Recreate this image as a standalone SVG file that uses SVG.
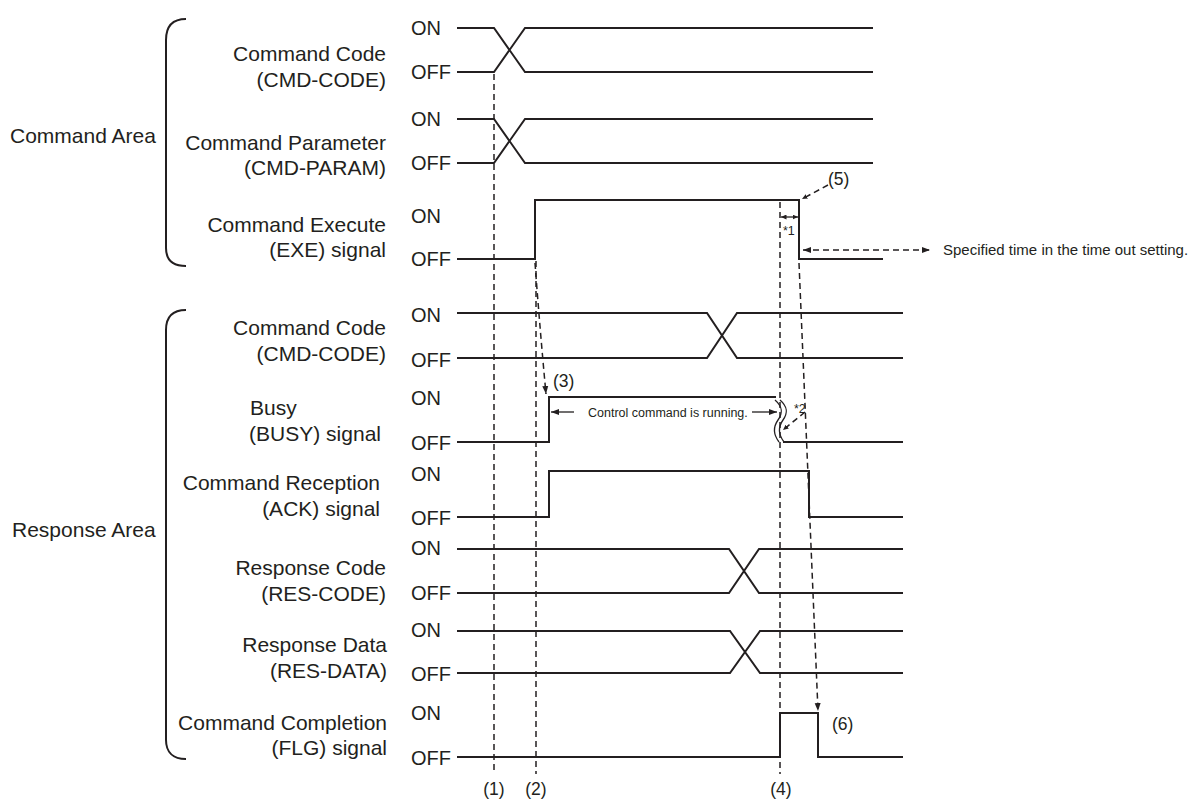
<svg xmlns="http://www.w3.org/2000/svg" width="1196" height="800" viewBox="0 0 1196 800">
<defs>
<style>
text{font-family:"Liberation Sans",Arial,sans-serif;fill:#231f20}
.lbl{font-size:20px}
.nm{font-size:21px}
.r{text-anchor:end}
.num{font-size:17.5px}
.sm{font-size:12.5px}
.sig{fill:none;stroke:#231f20;stroke-width:2}
.br{fill:none;stroke:#231f20;stroke-width:2}
.dash{fill:none;stroke:#231f20;stroke-width:1.5;stroke-dasharray:6,4}
.sol{fill:none;stroke:#231f20;stroke-width:1.3}
</style>
<marker id="ah" markerUnits="userSpaceOnUse" markerWidth="9" markerHeight="7" refX="8" refY="3.5" orient="auto-start-reverse" viewBox="0 0 9 7">
<path d="M0,0.5 L8,3.5 L0,6.5 z" fill="#231f20"/>
</marker>
<marker id="ahs" markerUnits="userSpaceOnUse" markerWidth="6" markerHeight="5" refX="5.5" refY="2.5" orient="auto-start-reverse" viewBox="0 0 6 5">
<path d="M0,0 L5.5,2.5 L0,5 z" fill="#231f20"/>
</marker>
</defs>
<rect width="1196" height="800" fill="#ffffff"/>

<g id="command-area">
<text class="nm" x="10" y="143">Command Area</text>
<path class="br" d="M186,19 C173,19 166,26 166,40 L166,248 C166,260 173,266 186,266"/>
</g>
<g id="response-area">
<text class="nm" x="12" y="537">Response Area</text>
<path class="br" d="M186,310 C173,310 166,317 166,330 L166,740 C166,752 173,759 186,759"/>
</g>

<g id="cmd-code">
<text class="nm r" x="386" y="61">Command Code</text>
<text class="nm r" x="386" y="87">(CMD-CODE)</text>
<text class="lbl" x="411" y="35">ON</text>
<text class="lbl" x="411" y="79">OFF</text>
<path class="sig" d="M457,28 L494,28 L525,72 L873,72 M457,72 L494,72 L525,28 L873,28"/>
</g>
<g id="cmd-param">
<text class="nm r" x="386" y="150">Command Parameter</text>
<text class="nm r" x="386" y="175">(CMD-PARAM)</text>
<text class="lbl" x="411" y="126">ON</text>
<text class="lbl" x="411" y="170">OFF</text>
<path class="sig" d="M457,119 L494,119 L525,163 L873,163 M457,163 L494,163 L525,119 L873,119"/>
</g>
<g id="exe">
<text class="nm r" x="386" y="232">Command Execute</text>
<text class="nm r" x="386" y="257">(EXE) signal</text>
<text class="lbl" x="411" y="223">ON</text>
<text class="lbl" x="411" y="266">OFF</text>
<path class="sig" d="M457,259 L535,259 L535,200 L799,200 L799,259 L883,259"/>
</g>
<g id="res-cmd-code">
<text class="nm r" x="386" y="335">Command Code</text>
<text class="nm r" x="386" y="361">(CMD-CODE)</text>
<text class="lbl" x="411" y="322">ON</text>
<text class="lbl" x="411" y="367">OFF</text>
<path class="sig" d="M457,313 L707,313 L737,358 L903,358 M457,358 L707,358 L737,313 L903,313"/>
</g>
<g id="busy">
<text class="nm" x="250" y="415">Busy</text>
<text class="nm r" x="381" y="441">(BUSY) signal</text>
<text class="lbl" x="411" y="405">ON</text>
<text class="lbl" x="411" y="450">OFF</text>
<path class="sig" d="M457,442 L549,442 L549,397 L776,397 M783,442 L903,442"/>
<path class="sol" d="M775,400 C783,407 783,413 778,420 C773,427 773,434 779,442"/>
<path class="sol" d="M780,400 C788,407 788,413 783,420 C778,427 778,434 784,442"/>
</g>
<g id="ack">
<text class="nm r" x="380" y="490">Command Reception</text>
<text class="nm r" x="380" y="516">(ACK) signal</text>
<text class="lbl" x="411" y="481">ON</text>
<text class="lbl" x="411" y="525">OFF</text>
<path class="sig" d="M457,517 L549,517 L549,471 L809,471 L809,517 L903,517"/>
</g>
<g id="res-code">
<text class="nm r" x="386" y="575">Response Code</text>
<text class="nm r" x="386" y="601">(RES-CODE)</text>
<text class="lbl" x="411" y="555">ON</text>
<text class="lbl" x="411" y="600">OFF</text>
<path class="sig" d="M457,549 L729,549 L759,593 L903,593 M457,593 L729,593 L759,549 L903,549"/>
</g>
<g id="res-data">
<text class="nm r" x="387" y="652">Response Data</text>
<text class="nm r" x="387" y="678">(RES-DATA)</text>
<text class="lbl" x="411" y="637">ON</text>
<text class="lbl" x="411" y="681">OFF</text>
<path class="sig" d="M457,631 L730,631 L760,673 L903,673 M457,673 L730,673 L760,631 L903,631"/>
</g>
<g id="flg">
<text class="nm r" x="387" y="730">Command Completion</text>
<text class="nm r" x="387" y="755">(FLG) signal</text>
<text class="lbl" x="411" y="720">ON</text>
<text class="lbl" x="411" y="765">OFF</text>
<path class="sig" d="M457,757 L780,757 L780,713 L818,713 L818,757 L903,757"/>
</g>

<g id="connectors">
<line class="dash" x1="494" y1="74" x2="494" y2="774"/>
<line class="dash" x1="536" y1="261" x2="536" y2="774"/>
<line class="dash" x1="780" y1="202" x2="780" y2="774"/>
<path class="dash" d="M535,263 Q540,330 546,394" marker-end="url(#ah)"/>
<path class="dash" d="M799,263 L818,711" marker-end="url(#ah)"/>
<path class="dash" d="M828,185 L802,199" marker-end="url(#ahs)"/>
<path class="dash" d="M805,412 L783,430" marker-end="url(#ahs)"/>
<line class="dash" x1="803" y1="250" x2="930" y2="250" marker-start="url(#ah)" marker-end="url(#ah)"/>
<line class="sol" x1="781" y1="217" x2="798" y2="217" marker-start="url(#ahs)" marker-end="url(#ahs)"/>
<line class="sol" x1="574" y1="412" x2="551" y2="412" marker-end="url(#ah)"/>
<line class="sol" x1="752" y1="412" x2="777" y2="412" marker-end="url(#ah)"/>
</g>

<g id="annotations">
<text class="num" x="828" y="185">(5)</text>
<text class="num" x="553" y="387">(3)</text>
<text class="num" x="832" y="730">(6)</text>
<text class="num" x="494" y="795" text-anchor="middle">(1)</text>
<text class="num" x="536" y="795" text-anchor="middle">(2)</text>
<text class="num" x="781" y="795" text-anchor="middle">(4)</text>
<text class="sm" x="783" y="235">*1</text>
<text class="sm" x="794" y="413">*2</text>
<text class="sm" x="588" y="417">Control command is running.</text>
<text x="943" y="255" font-size="15">Specified time in the time out setting.</text>
</g>
</svg>
